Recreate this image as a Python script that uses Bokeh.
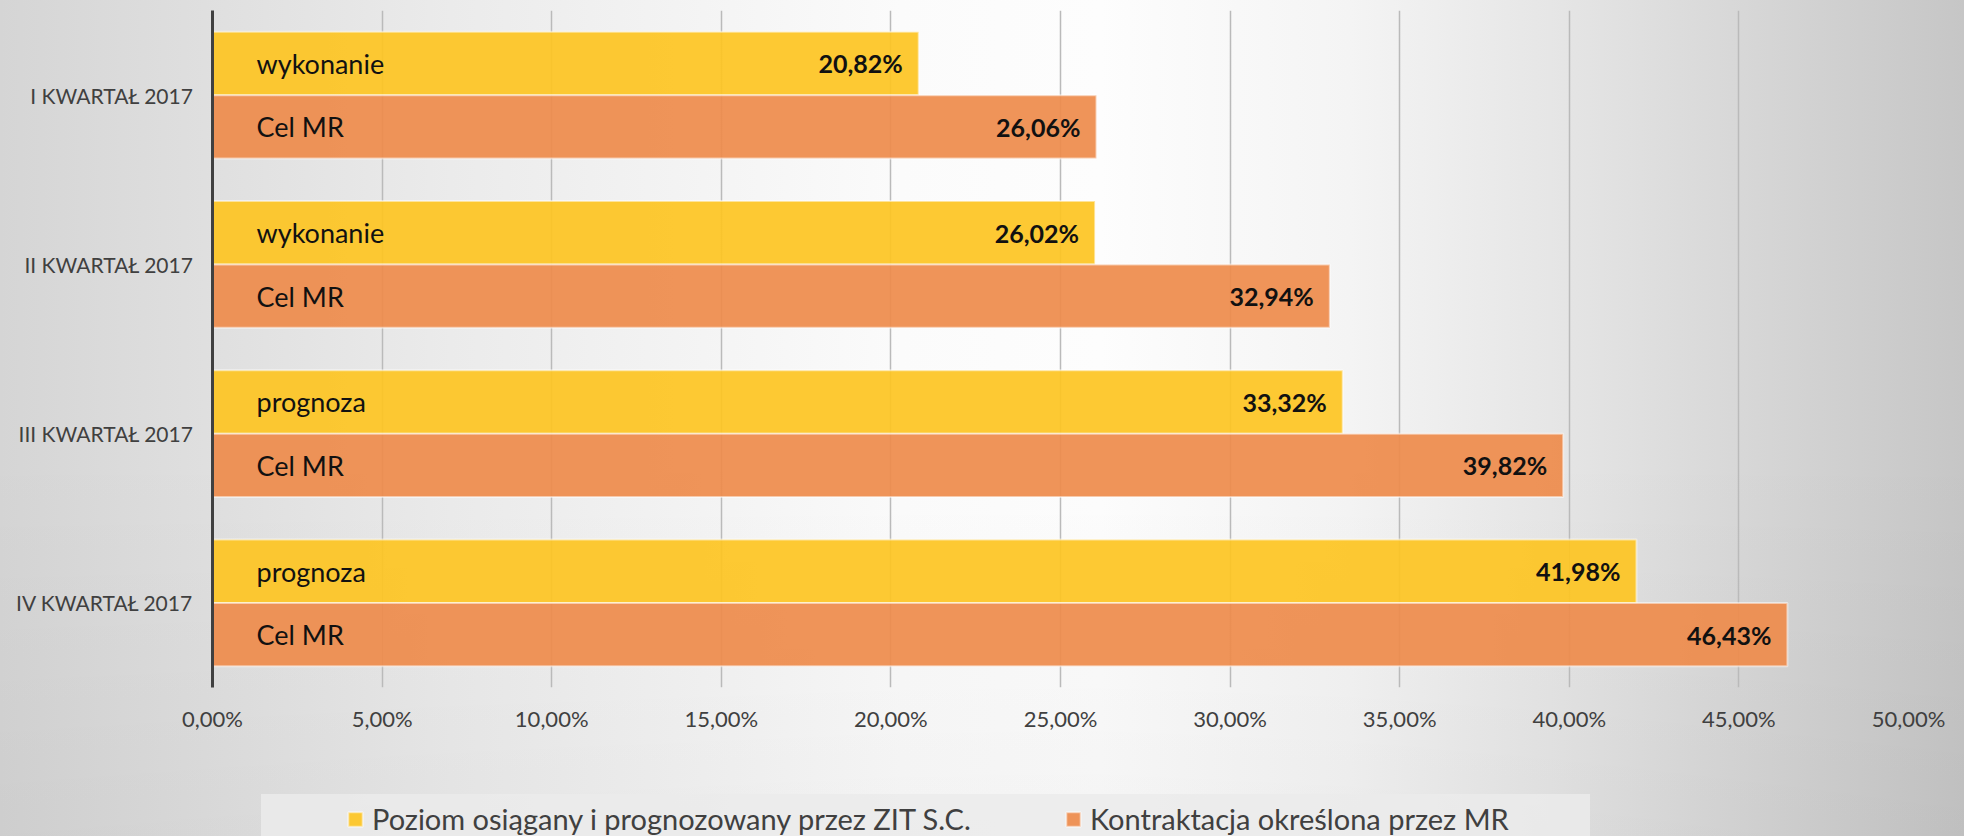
from bokeh.plotting import figure
from bokeh.layouts import column
from bokeh.models import (ColumnDataSource, FactorRange, Range1d, Legend, LegendItem,
                          FixedTicker)
from bokeh.transform import dodge
from bokeh.core.properties import value
from bokeh.embed import file_html
from bokeh.resources import INLINE

# ---------------- data ----------------
categories = ["I KWARTAŁ 2017", "II KWARTAŁ 2017", "III KWARTAŁ 2017", "IV KWARTAŁ 2017"]
zit_values = [20.82, 26.02, 33.32, 41.98]
mr_values = [26.06, 32.94, 39.82, 46.43]
zit_bar_labels = ["wykonanie", "wykonanie", "prognoza", "prognoza"]
mr_bar_labels = ["Cel MR", "Cel MR", "Cel MR", "Cel MR"]
series_names = ["Poziom osiągany i prognozowany przez ZIT S.C.",
                "Kontraktacja określona przez MR"]
x_ticks = [0, 5, 10, 15, 20, 25, 30, 35, 40, 45, 50]
x_tick_labels = ["0,00%", "5,00%", "10,00%", "15,00%", "20,00%", "25,00%",
                 "30,00%", "35,00%", "40,00%", "45,00%", "50,00%"]


def fmt(v):
    return f"{v:.2f}".replace(".", ",") + "%"


src = ColumnDataSource(dict(
    cat=categories,
    zit=zit_values,
    mr=mr_values,
    zit_lbl=zit_bar_labels,
    mr_lbl=mr_bar_labels,
    zit_txt=[fmt(v) for v in zit_values],
    mr_txt=[fmt(v) for v in mr_values],
))

FONT = "Lato"
YELLOW = "#FDC524"
ORANGE = "#EE8C4C"
TXT = "#404040"
BG = ("linear-gradient(to bottom, rgba(0,0,0,0) 0px, rgba(0,0,0,0) 450px, rgba(0,0,0,0.035) 836px),"
      "linear-gradient(to right, #d5d5d5 0px, #ebebeb 450px, #fbfbfb 900px, #fdfdfd 1100px, "
      "#f4f4f4 1350px, #e6e6e6 1550px, #c6c6c6 1964px)")


def bg_style(top):
    return {"background-image": BG,
            "background-size": "1964px 836px",
            "background-position": f"0px {-top}px",
            "background-repeat": "no-repeat"}


BAR_STYLE = dict(line_color="white", line_alpha=0.5, line_width=2, fill_alpha=0.93)

# ---------------- main chart ----------------
p = figure(width=1964, height=780,
           y_range=FactorRange(*list(reversed(categories)), range_padding=0),
           x_range=Range1d(0, 50),
           output_backend="svg", toolbar_location=None,
           min_border_left=212, min_border_right=56,
           min_border_top=10, min_border_bottom=93)

p.background_fill_alpha = 0
p.border_fill_alpha = 0
p.outline_line_color = None
p.styles = bg_style(0)

ticker = FixedTicker(ticks=x_ticks)
p.xaxis.ticker = ticker
p.xgrid.ticker = ticker
p.xaxis.major_label_overrides = {t: l for t, l in zip(x_ticks, x_tick_labels)}
p.xgrid.grid_line_color = "#bababa"
p.xgrid.grid_line_width = 1.5
p.ygrid.grid_line_color = None

p.xaxis.axis_line_color = None
p.xaxis.major_tick_line_color = None
p.xaxis.minor_tick_line_color = None
p.xaxis.major_tick_out = 0
p.xaxis.minor_tick_out = 0
p.xaxis.major_label_standoff = 17
p.xaxis.major_label_text_font = FONT
p.xaxis.major_label_text_font_size = "22px"
p.xaxis.major_label_text_color = TXT

p.yaxis.axis_line_color = "#404040"
p.yaxis.axis_line_width = 3
p.yaxis.major_tick_line_color = None
p.yaxis.minor_tick_line_color = None
p.yaxis.major_tick_out = 0
p.yaxis.major_label_standoff = 19
p.yaxis.major_label_text_font = FONT
p.yaxis.major_label_text_font_size = "21px"
p.yaxis.major_label_text_color = TXT

p.hbar(y=dodge("cat", 0.1875, range=p.y_range), left=0, right="zit", height=0.375,
       source=src, fill_color=YELLOW, **BAR_STYLE)
p.hbar(y=dodge("cat", -0.1875, range=p.y_range), left=0, right="mr", height=0.375,
       source=src, fill_color=ORANGE, **BAR_STYLE)

for col, off in (("zit_lbl", 0.1875), ("mr_lbl", -0.1875)):
    p.text(x=0, y=dodge("cat", off, range=p.y_range), text=col, source=src,
           x_offset=44, text_baseline="middle", text_align="left",
           text_font=value(FONT), text_font_size="27px", text_color="#111111")

for xcol, tcol, off in (("zit", "zit_txt", 0.1875), ("mr", "mr_txt", -0.1875)):
    p.text(x=xcol, y=dodge("cat", off, range=p.y_range), text=tcol, source=src,
           x_offset=-16, text_baseline="middle", text_align="right",
           text_font=value(FONT), text_font_size="25px", text_font_style="bold",
           text_color="#111111")

# ---------------- legend strip ----------------
lg = figure(width=1964, height=56, x_range=Range1d(0, 1), y_range=Range1d(0, 1),
            output_backend="svg", toolbar_location=None,
            x_axis_location=None, y_axis_location=None,
            min_border_left=212, min_border_right=56,
            min_border_top=0, min_border_bottom=0)
lg.background_fill_alpha = 0
lg.border_fill_alpha = 0
lg.outline_line_color = None
lg.grid.visible = False
lg.styles = bg_style(780)

# legend proxies: one bar each, placed outside the visible range of this strip
k1 = lg.hbar(y=[-5], left=[0], right=[0], height=1, fill_color=YELLOW, **BAR_STYLE)
k2 = lg.hbar(y=[-5], left=[0], right=[0], height=1, fill_color=ORANGE, **BAR_STYLE)
kb = lg.scatter(x=[-5], y=[-5], fill_alpha=0, line_alpha=0)

legend_box = Legend(items=[LegendItem(label=" ", renderers=[kb])],
                    orientation="horizontal", location=(49, 0),
                    glyph_width=1, glyph_height=1, label_standoff=0,
                    label_width=1328, label_height=42, padding=0, margin=0,
                    background_fill_color="#ebebeb", background_fill_alpha=0.85,
                    border_line_alpha=0, label_text_font_size="10px")
lg.add_layout(legend_box)

legend = Legend(items=[LegendItem(label=series_names[0], renderers=[k1]),
                       LegendItem(label=series_names[1], renderers=[k2])],
                orientation="horizontal", location=(134, 0),
                glyph_width=18, glyph_height=18, label_standoff=8,
                label_width=610, spacing=82, padding=0, margin=0, label_height=30,
                background_fill_alpha=0, border_line_alpha=0,
                label_text_font=FONT, label_text_font_size="29px",
                label_text_color=TXT)
lg.add_layout(legend)

layout = column(p, lg, spacing=0)
open("out.html", "w").write(file_html(layout, INLINE))
